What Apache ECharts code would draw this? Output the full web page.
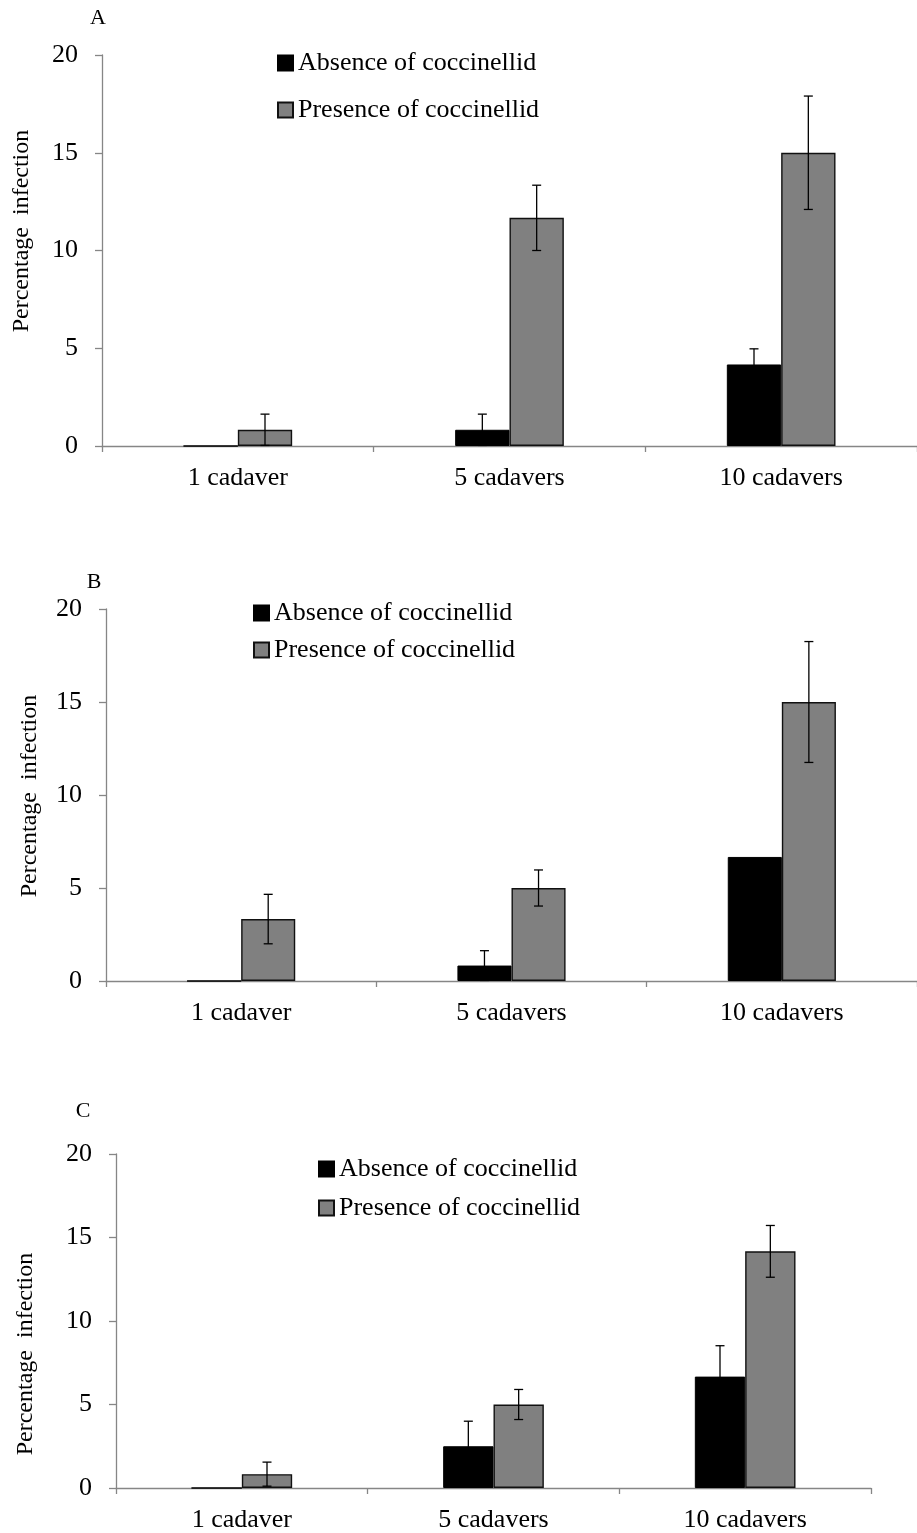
<!DOCTYPE html>
<html>
<head>
<meta charset="utf-8">
<script src="https://cdn.jsdelivr.net/npm/echarts@6/dist/echarts.min.js"></script>
<style>
html,body{margin:0;padding:0;background:#fff;}
#chart{width:917px;height:1533px;}
</style>
</head>
<body>
<div id="chart"></div>
<script>
// ---- data ----
var categories = ['1 cadaver', '5 cadavers', '10 cadavers'];
var seriesNames = ['Absence of coccinellid', 'Presence of coccinellid'];
var panelLabels = ['A', 'B', 'C'];
var yTicks = [0, 5, 10, 15, 20];

var absenceA = [0, 0.83, 4.17];
var absenceErrA = [0, 0.8, 0.8];
var presenceA = [0.83, 11.67, 15];
var presenceErrA = [0.8, 1.67, 2.9];

var absenceB = [0, 0.83, 6.67];
var absenceErrB = [0, 0.8, 0];
var presenceB = [3.33, 5, 15];
var presenceErrB = [1.33, 0.97, 3.25];

var absenceC = [0, 2.5, 6.67];
var absenceErrC = [0, 1.5, 1.85];
var presenceC = [0.83, 5, 14.17];
var presenceErrC = [0.72, 0.9, 1.55];

// ---- layout (styles only) ----
var FONT = 'Liberation Serif, Times New Roman, serif';
var FS = 26;
var panels = [
  {abs: absenceA, absErr: absenceErrA, pre: presenceA, preErr: presenceErrA,
   grid: {left: 102, top: 55, width: 825, height: 391},
   legend: {left: 277, top: 50, itemGap: 21},
   letter: [98, 18], yname: [22, 231]},
  {abs: absenceB, absErr: absenceErrB, pre: presenceB, preErr: presenceErrB,
   grid: {left: 106, top: 609, width: 811, height: 372},
   legend: {left: 253, top: 600, itemGap: 11},
   letter: [94, 582], yname: [30, 796]},
  {abs: absenceC, absErr: absenceErrC, pre: presenceC, preErr: presenceErrC,
   grid: {left: 116, top: 1154, width: 755, height: 334},
   legend: {left: 318, top: 1156, itemGap: 13},
   letter: [83, 1111], yname: [26, 1354]}
];

var colors = ['#000000', '#808080'];

function errorSeries(gi, vals, errs, sign) {
  var data = [];
  for (var i = 0; i < vals.length; i++) {
    if (errs[i] > 0) data.push([i, Math.max(0, vals[i] - errs[i]), vals[i] + errs[i]]);
  }
  return {
    type: 'custom', xAxisIndex: gi, yAxisIndex: gi, z: 10, silent: true,
    data: data,
    renderItem: function (params, api) {
      var band = api.size([1, 0])[0];
      var off = sign * band * 0.1;
      var lo = api.coord([api.value(0), api.value(1)]);
      var hi = api.coord([api.value(0), api.value(2)]);
      var x = lo[0] + off;
      var cap = 4.5;
      var st = {stroke: '#000', lineWidth: 1.3};
      return {type: 'group', children: [
        {type: 'line', shape: {x1: x, y1: lo[1], x2: x, y2: hi[1]}, style: st},
        {type: 'line', shape: {x1: x - cap, y1: hi[1], x2: x + cap, y2: hi[1]}, style: st},
        {type: 'line', shape: {x1: x - cap, y1: lo[1], x2: x + cap, y2: lo[1]}, style: st}
      ]};
    }
  };
}

var grids = [], xAxes = [], yAxes = [], series = [], legends = [], graphics = [];
panels.forEach(function (p, gi) {
  grids.push(p.grid);
  xAxes.push({
    type: 'category', gridIndex: gi, data: categories, boundaryGap: true,
    axisLine: {show: true, lineStyle: {color: '#868686', width: 1.3}},
    axisTick: {show: true, length: 6, lineStyle: {color: '#868686', width: 1.3}},
    axisLabel: {color: '#000', fontFamily: FONT, fontSize: FS, margin: 19}
  });
  yAxes.push({
    type: 'value', gridIndex: gi, min: yTicks[0], max: yTicks[yTicks.length - 1], interval: 5,
    splitLine: {show: false},
    axisLine: {show: true, lineStyle: {color: '#868686', width: 1.3}},
    axisTick: {show: true, length: 7, lineStyle: {color: '#868686', width: 1.3}},
    axisLabel: {color: '#000', fontFamily: FONT, fontSize: FS, margin: 24}
  });
  series.push({
    name: seriesNames[0], type: 'bar', xAxisIndex: gi, yAxisIndex: gi,
    data: p.abs, barWidth: '20%', barGap: '0%',
    itemStyle: {color: colors[0], borderColor: '#000', borderWidth: 1}
  });
  series.push({
    name: seriesNames[1], type: 'bar', xAxisIndex: gi, yAxisIndex: gi,
    data: p.pre, barWidth: '20%', barGap: '0%',
    itemStyle: {color: colors[1], borderColor: '#111', borderWidth: 1.4}
  });
  series.push(errorSeries(gi, p.abs, p.absErr, -1));
  series.push(errorSeries(gi, p.pre, p.preErr, 1));
  legends.push({
    data: seriesNames, orient: 'vertical', left: p.legend.left, top: p.legend.top,
    itemGap: p.legend.itemGap, itemWidth: 15, itemHeight: 15, icon: 'rect',
    selectedMode: false, padding: 0,
    textStyle: {color: '#000', fontFamily: FONT, fontSize: FS}
  });
  graphics.push({
    type: 'text', x: p.letter[0], y: p.letter[1],
    style: {text: panelLabels[gi], font: '22px ' + FONT, fill: '#000',
      align: 'center', verticalAlign: 'middle', textAlign: 'center', textVerticalAlign: 'middle'}
  });
  graphics.push({
    type: 'text', x: p.yname[0], y: p.yname[1], rotation: Math.PI / 2,
    style: {text: 'Percentage  infection', font: '24px ' + FONT, fill: '#000',
      align: 'center', verticalAlign: 'middle', textAlign: 'center', textVerticalAlign: 'middle'}
  });
});

var chart = echarts.init(document.getElementById('chart'), null, {renderer: 'canvas'});
chart.setOption({
  backgroundColor: '#fff',
  animation: false,
  grid: grids, xAxis: xAxes, yAxis: yAxes, legend: legends,
  series: series, graphic: graphics
});
</script>
</body>
</html>
